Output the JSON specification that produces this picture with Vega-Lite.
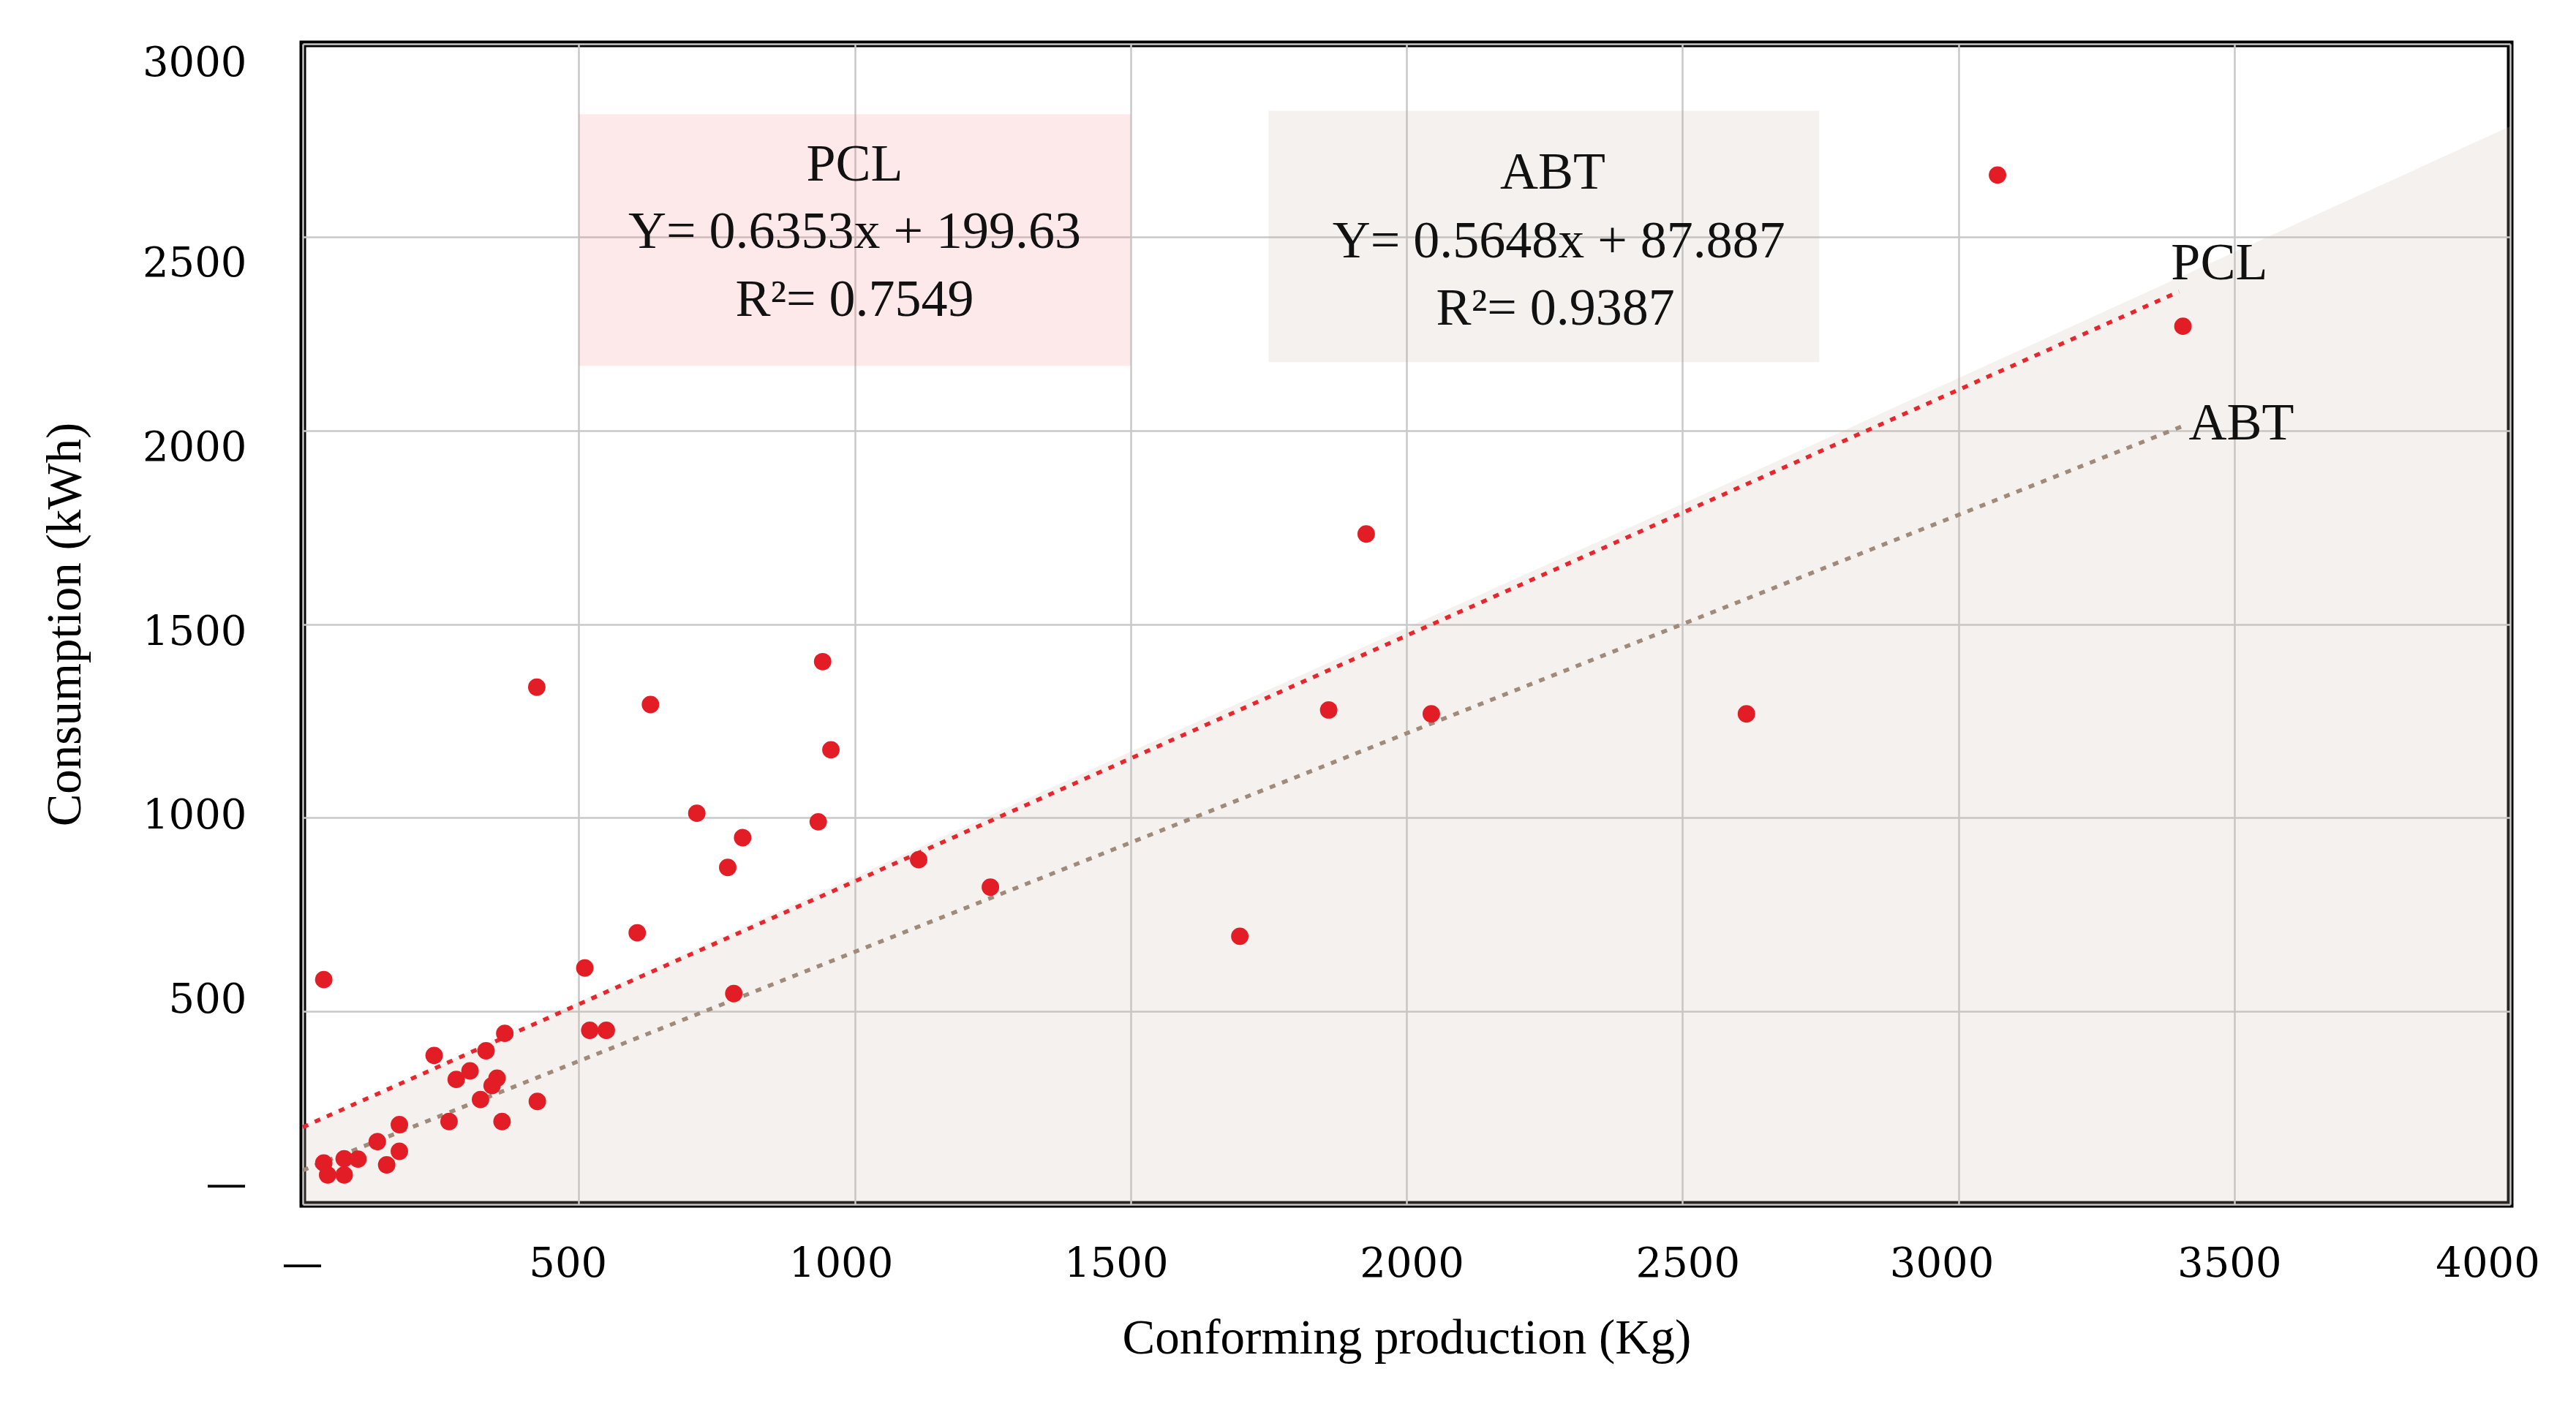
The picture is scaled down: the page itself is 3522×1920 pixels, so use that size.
{
  "$schema": "https://vega.github.io/schema/vega-lite/v6.json",
  "width": 3018,
  "height": 1587,
  "padding": {"left": 55, "top": 58, "right": 10, "bottom": 10},
  "background": "white",
  "config": {
    "view": {"stroke": "black", "strokeWidth": 9},
    "axis": {
      "domain": false,
      "ticks": false,
      "grid": true,
      "gridColor": "#c8c8c8",
      "gridWidth": 2.5,
      "labelFont": "DejaVu Serif",
      "labelFontSize": 56,
      "labelColor": "black",
      "labelFlush": false,
      "titleFont": "Liberation Serif",
      "titleFontSize": 67,
      "titleFontWeight": "normal",
      "titleColor": "black"
    }
  },
  "datasets": {
    "band": [
      {"x": 0, "y": 200},
      {"x": 1500, "y": 1170},
      {"x": 2600, "y": 1875},
      {"x": 4000, "y": 2787}
    ],
    "boxes": [
      {"box": "PCL", "x": 500, "x2": 1500, "y": 2168, "y2": 2818},
      {"box": "ABT", "x": 1750, "x2": 2748, "y": 2177, "y2": 2827}
    ],
    "fits": [
      {"series": "PCL", "x": 0, "y": 199.63},
      {"series": "PCL", "x": 3400, "y": 2359.65},
      {"series": "ABT", "x": 0, "y": 87.887},
      {"series": "ABT", "x": 3411, "y": 2014.4}
    ],
    "obs": [
      {"prod": 38, "cons": 581},
      {"prod": 424, "cons": 1337},
      {"prod": 630, "cons": 1292},
      {"prod": 942, "cons": 1403},
      {"prod": 957, "cons": 1175},
      {"prod": 714, "cons": 1011},
      {"prod": 797, "cons": 948},
      {"prod": 934, "cons": 989},
      {"prod": 770, "cons": 871},
      {"prod": 1116, "cons": 891},
      {"prod": 1246, "cons": 820},
      {"prod": 606, "cons": 702},
      {"prod": 511, "cons": 611},
      {"prod": 781, "cons": 545},
      {"prod": 520, "cons": 450},
      {"prod": 550, "cons": 450},
      {"prod": 366, "cons": 442},
      {"prod": 238, "cons": 385},
      {"prod": 332, "cons": 397},
      {"prod": 303, "cons": 345},
      {"prod": 278, "cons": 323},
      {"prod": 352, "cons": 326},
      {"prod": 343, "cons": 307},
      {"prod": 322, "cons": 271},
      {"prod": 425, "cons": 266},
      {"prod": 265, "cons": 214},
      {"prod": 361, "cons": 214},
      {"prod": 175, "cons": 206},
      {"prod": 135, "cons": 162},
      {"prod": 175, "cons": 137},
      {"prod": 152, "cons": 102},
      {"prod": 38, "cons": 107},
      {"prod": 75, "cons": 118},
      {"prod": 100, "cons": 117},
      {"prod": 45, "cons": 76},
      {"prod": 75, "cons": 76},
      {"prod": 1698, "cons": 693},
      {"prod": 1859, "cons": 1278},
      {"prod": 1927, "cons": 1733},
      {"prod": 2045, "cons": 1268},
      {"prod": 2616, "cons": 1268},
      {"prod": 3071, "cons": 2661},
      {"prod": 3407, "cons": 2270}
    ],
    "notes": [
      {"x": 1000, "y": 2688, "text": "PCL"},
      {"x": 1000, "y": 2515, "text": "Y= 0.6353x + 199.63"},
      {"x": 1000, "y": 2339, "text": "R²= 0.7549"},
      {"x": 2265, "y": 2667, "text": "ABT"},
      {"x": 2276, "y": 2490, "text": "Y= 0.5648x + 87.887"},
      {"x": 2270, "y": 2315, "text": "R²= 0.9387"},
      {"x": 3473, "y": 2432, "text": "PCL"},
      {"x": 3513, "y": 2019, "text": "ABT"}
    ]
  },
  "layer": [
    {
      "data": {"name": "band"},
      "mark": {"type": "area", "fill": "#c9b8a8", "opacity": 0.2},
      "encoding": {
        "x": {
          "field": "x", "type": "quantitative",
          "scale": {"domain": [0, 4000], "nice": false},
          "axis": {
            "title": "Conforming production (Kg)",
            "values": [0, 500, 1000, 1500, 2000, 2500, 3000, 3500, 4000],
            "labelPadding": 54,
            "titlePadding": 41,
            "labelExpr": "datum.value == 0 ? '—' : datum.label",
            "labelOffset": {"expr": "[-1,-15,-19,-20,7,7,-23,-7,-31][round(datum.value/500)]"},
            "format": "d"
          }
        },
        "y": {
          "field": "y", "type": "quantitative",
          "scale": {"domain": [0, 3000], "nice": false},
          "axis": {
            "title": "Consumption (kWh)",
            "values": [0, 500, 1000, 1500, 2000, 2500, 3000],
            "labelPadding": 77,
            "titlePadding": 91,
            "labelExpr": "datum.value == 0 ? '—' : datum.label",
            "labelOffset": {"expr": "datum.value == 3000 ? 26 : -28 + 0.0257 * datum.value"},
            "format": "d"
          }
        }
      }
    },
    {
      "data": {"name": "boxes"},
      "mark": {"type": "rect", "opacity": 0.15},
      "encoding": {
        "x": {"field": "x", "type": "quantitative"},
        "x2": {"field": "x2"},
        "y": {"field": "y", "type": "quantitative"},
        "y2": {"field": "y2"},
        "fill": {
          "field": "box", "type": "nominal", "legend": null,
          "scale": {"domain": ["PCL", "ABT"], "range": ["#f26673", "#b6a28e"]}
        }
      }
    },
    {
      "data": {"name": "fits"},
      "mark": {"type": "line", "strokeWidth": 5.5, "strokeDash": [8, 10]},
      "encoding": {
        "x": {"field": "x", "type": "quantitative"},
        "y": {"field": "y", "type": "quantitative"},
        "detail": {"field": "series"},
        "stroke": {
          "field": "series", "type": "nominal", "legend": null,
          "scale": {"domain": ["PCL", "ABT"], "range": ["#e8262d", "#a08b7b"]}
        }
      }
    },
    {
      "data": {"name": "obs"},
      "mark": {"type": "circle", "size": 570, "color": "#e31d25", "opacity": 1},
      "encoding": {
        "x": {"field": "prod", "type": "quantitative"},
        "y": {"field": "cons", "type": "quantitative"}
      }
    },
    {
      "data": {"name": "notes"},
      "mark": {"type": "text", "font": "Liberation Serif", "fontSize": 72, "color": "#111111", "align": "center", "baseline": "middle"},
      "encoding": {
        "x": {"field": "x", "type": "quantitative"},
        "y": {"field": "y", "type": "quantitative"},
        "text": {"field": "text"}
      }
    }
  ]
}
